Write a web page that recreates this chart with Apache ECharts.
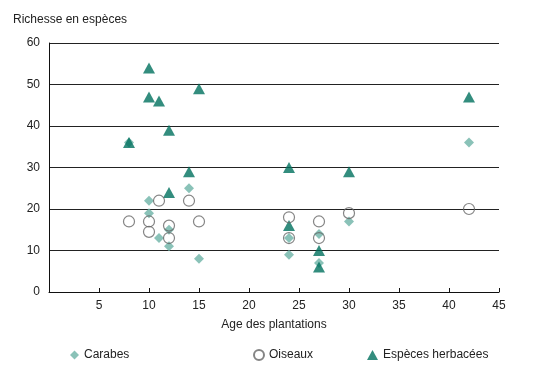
<!DOCTYPE html>
<html>
<head>
<meta charset="utf-8">
<script src="https://cdn.jsdelivr.net/npm/echarts@6/dist/echarts.min.js"></script>
<style>
html, body { margin: 0; padding: 0; background: #fff; }
#main { width: 534px; height: 375px; }
</style>
</head>
<body>
<div id="main"></div>
<script>
var myChart = echarts.init(document.getElementById('main'));

// [age, richesse]
var carabes = [
    [8, 36], [10, 22], [10, 19], [11, 13], [12, 15], [12, 11], [14, 25], [15, 8],
    [24, 13], [24, 9], [27, 14], [27, 7], [30, 17], [42, 36]
];
var oiseaux = [
    [8, 17], [10, 17], [10, 14.5], [11, 22], [12, 16], [12, 13], [14, 22], [15, 17],
    [24, 18], [24, 13], [27, 17], [27, 13], [30, 19], [42, 20]
];
var herbacees = [
    [8, 36], [10, 54], [10, 47], [11, 46], [12, 39], [12, 24], [14, 29], [15, 49],
    [24, 30], [24, 16], [27, 10], [27, 6], [30, 29], [42, 47]
];

var font = 'Liberation Sans, Arial, sans-serif';
var txt = { color: '#222', fontFamily: font, fontSize: 12 };

option = {
    backgroundColor: '#fff',
    textStyle: { fontFamily: font },
    animation: false,
    grid: { left: 49, right: 35, top: 43, bottom: 83 },
    legend: [
        { left: 70, top: 349, padding: 0, itemWidth: 9, itemHeight: 9, textStyle: txt, data: [{ name: 'Carabes', icon: 'diamond' }] },
        { left: 253, top: 349, padding: 0, itemWidth: 10, itemHeight: 10, textStyle: txt, data: [{ name: 'Oiseaux', icon: 'circle' }] },
        { left: 367, top: 349, padding: 0, itemWidth: 11, itemHeight: 10, textStyle: txt, data: [{ name: 'Espèces herbacées', icon: 'triangle' }] }
    ],
    xAxis: {
        type: 'value',
        min: 0,
        max: 45,
        interval: 5,
        name: 'Age des plantations',
        nameLocation: 'middle',
        nameGap: 27,
        nameTextStyle: txt,
        axisLine: { lineStyle: { color: '#111', width: 1 } },
        axisTick: { show: true, inside: true, length: 4, lineStyle: { color: '#111' } },
        axisLabel: Object.assign({
            margin: 8,
            formatter: function (v) { return v === 0 ? '' : v; }
        }, txt),
        splitLine: { show: false }
    },
    yAxis: {
        type: 'value',
        min: 0,
        max: 60,
        interval: 10,
        name: 'Richesse en espèces',
        nameLocation: 'end',
        nameGap: 17,
        nameTextStyle: Object.assign({ align: 'left', padding: [0, 0, 0, -36] }, txt),
        axisLine: { show: true, lineStyle: { color: '#111', width: 1 } },
        axisTick: { show: false },
        axisLabel: Object.assign({ margin: 9 }, txt),
        splitLine: { show: true, lineStyle: { color: '#222', width: 1 } }
    },
    series: [
        {
            name: 'Carabes',
            type: 'scatter',
            symbol: 'diamond',
            symbolSize: 10,
            data: carabes,
            itemStyle: { color: '#6db3a6' },
            z: 2
        },
        {
            name: 'Oiseaux',
            type: 'scatter',
            symbol: 'circle',
            symbolSize: 11,
            data: oiseaux,
            itemStyle: { color: 'rgba(255,255,255,0)', borderColor: '#666', borderWidth: 1.2 },
            z: 4
        },
        {
            name: 'Espèces herbacées',
            type: 'scatter',
            symbol: 'triangle',
            symbolSize: [12, 11],
            data: herbacees,
            itemStyle: { color: '#00705e' },
            z: 3
        }
    ]
};

myChart.setOption(option);
</script>
</body>
</html>
